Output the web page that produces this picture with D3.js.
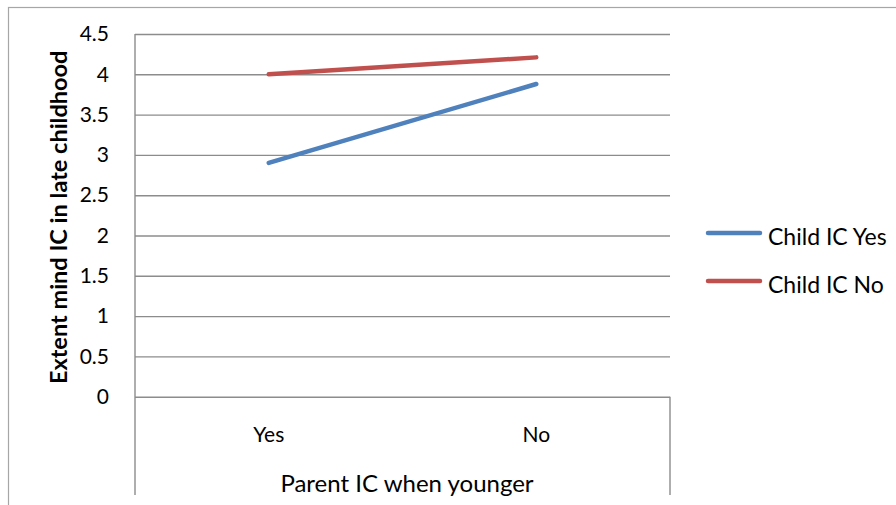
<!DOCTYPE html>
<html>
<head>
<meta charset="utf-8">
<script src="https://cdn.jsdelivr.net/npm/d3@7"></script>
<style>
  body { margin: 0; background: #fff; }
  text { font-family: Lato, "Open Sans", sans-serif; fill: #000; }
</style>
</head>
<body>
<div id="chart"></div>
<script>
// chart values
var categories = ["Yes", "No"]
var seriesNames = ["Child IC Yes", "Child IC No"]
var childYes = [2.90, 3.88]
var childNo = [4.00, 4.21]
var yTicks = [0, 0.5, 1, 1.5, 2, 2.5, 3, 3.5, 4, 4.5]
var colors = ["#4f81bd", "#c0504d"]

var series = [
    { name: seriesNames[0], values: childYes, color: colors[0] },
    { name: seriesNames[1], values: childNo, color: colors[1] }
]

const W = 896, H = 505
const plot = { left: 135, right: 670, top: 34, bottom: 396.7 }
const catBottom = 495

var svg = d3.select("#chart").append("svg")
    .attr("width", W)
    .attr("height", H)

// outer chart border (runs off the right and bottom edge)
svg.append("rect")
    .attr("x", 8.5).attr("y", 7.5)
    .attr("width", 920).attr("height", 520)
    .attr("fill", "none")
    .attr("stroke", "#a6a6a6")
    .attr("stroke-width", 1.2)

const x = d3.scaleBand().domain(categories).range([plot.left, plot.right])
const y = d3.scaleLinear().domain([0, 4.5]).range([plot.bottom, plot.top])

// gridlines + y labels
var yAxis = svg.append("g")
    .attr("transform", "translate(" + plot.left + ",0)")
    .call(d3.axisLeft(y)
        .tickValues(yTicks)
        .tickSize(-(plot.right - plot.left))
        .tickPadding(26)
        .tickFormat(d => d))
yAxis.select(".domain").remove()
yAxis.selectAll(".tick line")
    .attr("stroke", "#8c8c8c")
    .attr("stroke-width", 1.4)
yAxis.selectAll(".tick text")
    .attr("font-size", 21)
    .style("font-family", "Lato, sans-serif")

// category axis box
var g = svg.append("g").attr("stroke", "#8c8c8c").attr("stroke-width", 1.4)
g.append("line")
    .attr("x1", plot.left).attr("x2", plot.left)
    .attr("y1", plot.top).attr("y2", catBottom)
g.append("line")
    .attr("x1", plot.right).attr("x2", plot.right)
    .attr("y1", plot.bottom).attr("y2", catBottom)

var xAxis = svg.append("g")
    .attr("transform", "translate(0," + plot.bottom + ")")
    .call(d3.axisBottom(x).tickSize(0).tickPadding(30))
xAxis.select(".domain").remove()
xAxis.selectAll(".tick text")
    .attr("font-size", 21)
    .style("font-family", "Lato, sans-serif")

// lines
var line = d3.line()
    .x((d, i) => x(categories[i]) + x.bandwidth() / 2)
    .y(d => y(d))

svg.append("g").selectAll("path")
    .data(series.slice().reverse())
    .enter()
    .append("path")
    .attr("d", d => line(d.values))
    .attr("fill", "none")
    .attr("stroke", d => d.color)
    .attr("stroke-width", 4.5)
    .attr("stroke-linecap", "round")

// axis titles
svg.append("text")
    .attr("transform", "translate(67," + ((plot.top + plot.bottom) / 2 + 2) + ") rotate(-90)")
    .attr("text-anchor", "middle")
    .attr("font-size", 23.5)
    .attr("font-weight", "bold")
    .text("Extent mind IC in late childhood")

svg.append("text")
    .attr("x", 407)
    .attr("y", 492)
    .attr("text-anchor", "middle")
    .attr("font-size", 24)
    .text("Parent IC when younger")

// legend
var legend = svg.append("g").selectAll("g")
    .data(series)
    .enter()
    .append("g")
    .attr("transform", (d, i) => "translate(708," + (233 + i * 48) + ")")
legend.append("line")
    .attr("x1", 0).attr("x2", 52)
    .attr("stroke", d => d.color)
    .attr("stroke-width", 4.5)
    .attr("stroke-linecap", "round")
legend.append("text")
    .attr("x", 60)
    .attr("y", 12)
    .attr("font-size", 23)
    .text(d => d.name)
</script>
</body>
</html>
